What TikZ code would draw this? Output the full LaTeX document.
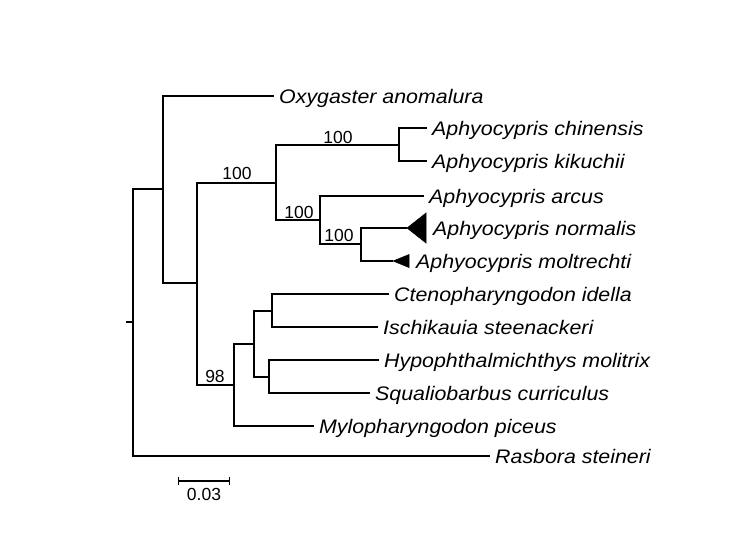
\documentclass[tikz,border=0pt]{standalone}
\usepackage{fontspec}
\setmainfont{Liberation Sans}
\newfontfamily\leaffont[FakeStretch=1.09]{Liberation Sans}
\begin{document}
\begin{tikzpicture}[x=1pt,y=-1pt,
  branch/.style={line width=1.3pt},
  leaf/.style={anchor=west,inner xsep=5pt,inner ysep=0pt,font=\fontsize{19.6}{22}\leaffont\itshape,text height=14pt,text depth=0pt},
  support/.style={inner sep=0pt,font=\fontsize{17.5}{20}\selectfont},
  collapsed/.style={fill=black,draw=black,line width=0.5pt}]
\useasboundingbox (0,0) rectangle (750,539);
% internal nodes
\coordinate (R) at (133,322);
\coordinate (Rs) at (126,322);
\coordinate (A) at (163,189);
\coordinate (B) at (197,283);
\coordinate (C) at (276,183);
\coordinate (D) at (399,145);
\coordinate (E) at (320,220);
\coordinate (F) at (361,244);
\coordinate (G) at (234,385);
\coordinate (H) at (254,344);
\coordinate (I) at (272,311);
\coordinate (J) at (269,377);
% leaves
\node[leaf] (oxy) at (274,96) {Oxygaster anomalura};
\node[leaf] (chi) at (427,128) {Aphyocypris chinensis};
\node[leaf] (kik) at (427,161) {Aphyocypris kikuchii};
\node[leaf] (arc) at (424,196) {Aphyocypris arcus};
\coordinate (norA) at (407,228);
\node[leaf] (nor) at (428,228) {Aphyocypris normalis};
\coordinate (molA) at (393,261);
\node[leaf] (mol) at (411,261) {Aphyocypris moltrechti};
\node[leaf] (cte) at (389,294) {Ctenopharyngodon idella};
\node[leaf] (isc) at (378,327) {Ischikauia steenackeri};
\node[leaf] (hyp) at (379,360) {Hypophthalmichthys molitrix};
\node[leaf] (squ) at (370,393) {Squaliobarbus curriculus};
\node[leaf] (myl) at (314,426) {Mylopharyngodon piceus};
\node[leaf] (ras) at (490,456) {Rasbora steineri};
% branches
\draw[branch] (Rs) -- (R);
\draw[branch] (R) |- (A);
\draw[branch] (R) |- (ras.west);
\draw[branch] (A) |- (oxy.west);
\draw[branch] (A) |- (B);
\draw[branch] (B) |- (C);
\draw[branch] (B) |- (G);
\draw[branch] (C) |- (D);
\draw[branch] (C) |- (E);
\draw[branch] (D) |- (chi.west);
\draw[branch] (D) |- (kik.west);
\draw[branch] (E) |- (arc.west);
\draw[branch] (E) |- (F);
\draw[branch] (F) |- (norA);
\draw[branch] (F) |- (molA);
\draw[branch] (G) |- (H);
\draw[branch] (G) |- (myl.west);
\draw[branch] (H) |- (I);
\draw[branch] (H) |- (J);
\draw[branch] (I) |- (cte.west);
\draw[branch] (I) |- (isc.west);
\draw[branch] (J) |- (hyp.west);
\draw[branch] (J) |- (squ.west);
% collapsed clades
\filldraw[collapsed] (norA) -- ++(19,-15) -- ++(0,30) -- cycle;
\filldraw[collapsed] (molA) -- ++(16,-6.5) -- ++(0,13) -- cycle;
% support values
\node[support] (sC) at (237,173) {100};
\node[support] (sD) at (338,137) {100};
\node[support] (sE) at (299,212) {100};
\node[support] (sF) at (339,235) {100};
\node[support] (sG) at (215,376) {98};
% scale bar
\coordinate (sb1) at (178,481);
\coordinate (sb2) at (229,481);
\draw[branch] (sb1) -- (sb2);
\draw[line width=1pt] ([yshift=-4]sb1) -- ([yshift=4]sb1);
\draw[line width=1pt] ([yshift=-4]sb2) -- ([yshift=4]sb2);
\node[support] (sbl) at (204,494) {0.03};
\end{tikzpicture}
\end{document}
